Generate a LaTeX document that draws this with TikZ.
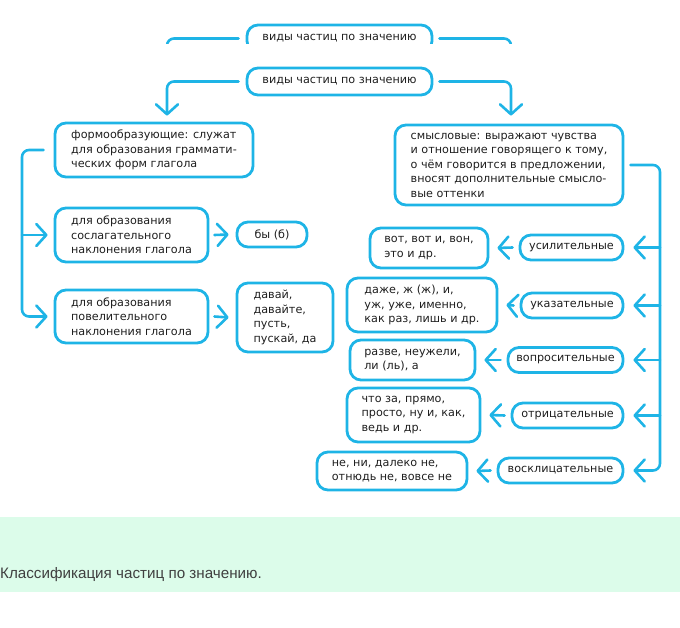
\documentclass[tikz,border=0pt]{standalone}
\usepackage{fontspec}
\setmainfont{DejaVu Sans}
\newfontfamily\capfont{Liberation Sans}
\usetikzlibrary{arrows.meta}
\definecolor{lblue}{RGB}{30,180,230}
\definecolor{txt}{RGB}{30,30,30}
\definecolor{band}{RGB}{220,252,234}
\begin{document}
\begin{tikzpicture}[x=1pt,y=-1pt,
  box/.style={draw=lblue, line width=2.8pt, rounded corners=11pt, inner sep=0pt,
    text=txt, align=left, font=\fontsize{11.2}{14.5}\selectfont},
  cat/.style={box, align=center},
  conn/.style={draw=lblue, line width=2.6pt, line cap=round, line join=round},
  arr/.style={conn, -{Straight Barb[length=10pt,width=22pt,line cap=round,line join=round]}}
  ]
\useasboundingbox (0,0) rectangle (680,628);
% bottom band and caption
\fill[band] (0,517) rectangle (680,592);
\node[anchor=base west, inner sep=0pt, text=txt!85, font=\capfont\fontsize{15.2}{18}\selectfont] (cap) at (0,578) {Классификация частиц по значению.};

% clipped copy of the header
\begin{scope}
\clip (0,0) rectangle (680,44);
\node[cat, minimum width=185pt, minimum height=27pt] (head1) at (339.5,38.5) {виды частиц по значению};
\coordinate (t1L) at (167,74);
\coordinate (t1R) at (511,74);
\draw[conn, rounded corners=7pt] ([xshift=-7pt]head1.west) -| (t1L);
\draw[conn, rounded corners=7pt] ([xshift=6pt]head1.east) -| (t1R);
\end{scope}

% header
\node[cat, minimum width=185pt, minimum height=27pt] (head2) at (339.5,81.5) {виды частиц по значению};

% left column
\node[box, minimum width=198pt, minimum height=54pt] (form) at (154,150)
  {формообразующие: служат\\для образования граммати-\\ческих форм глагола};
\node[box, minimum width=153pt, minimum height=54pt] (sosl) at (131.5,235)
  {для образования\\сослагательного\\наклонения глагола};
\node[cat, minimum width=70pt, minimum height=25pt] (by) at (272,234.5) {бы (б)};
\node[box, minimum width=153pt, minimum height=53pt] (povel) at (131.5,316.5)
  {для образования\\повелительного\\наклонения глагола};
\node[box, minimum width=96pt, minimum height=69pt] (davai) at (285,317.5)
  {давай,\\давайте,\\пусть,\\пускай, да};

% right column
\node[box, minimum width=228pt, minimum height=80pt] (smysl) at (509,165)
  {смысловые: выражают чувства\\и отношение говорящего к тому,\\о чём говорится в предложении,\\вносят дополнительные смысло-\\вые оттенки};

\node[cat, minimum width=103pt, minimum height=25pt] (usil) at (571.5,247.5) {усилительные};
\node[box, minimum width=118pt, minimum height=40pt] (usilx) at (429,248) {вот, вот и, вон,\\это и др.};
\node[cat, minimum width=102pt, minimum height=25pt] (ukaz) at (572,305.5) {указательные};
\node[box, minimum width=150pt, minimum height=54pt] (ukazx) at (422,305) {даже, ж (ж), и,\\уж, уже, именно,\\как раз, лишь и др.};
\node[cat, minimum width=115pt, minimum height=25pt] (vopr) at (565.5,360) {вопросительные};
\node[box, minimum width=125pt, minimum height=40pt] (voprx) at (412.5,360) {разве, неужели,\\ли (ль), а};
\node[cat, minimum width=111pt, minimum height=25pt] (otric) at (567.5,415.5) {отрицательные};
\node[box, minimum width=133pt, minimum height=54pt] (otricx) at (413.5,415) {что за, прямо,\\просто, ну и, как,\\ведь и др.};
\node[cat, minimum width=125pt, minimum height=25pt] (voskl) at (560.5,470.5) {восклицательные};
\node[box, minimum width=150pt, minimum height=38pt] (vosklx) at (392,471) {не, ни, далеко не,\\отнюдь не, вовсе не};

% header connectors
\draw[arr, rounded corners=7pt] ([xshift=-7pt]head2.west) -| ([xshift=13pt,yshift=6pt]form.north);
\draw[arr, rounded corners=7pt] ([xshift=6pt]head2.east) -| ([xshift=2pt,yshift=8pt]smysl.north);

% left trunk
\coordinate (trL) at (22,240);
\draw[arr, rounded corners=7pt] ([xshift=-10pt]form.west) -| (trL) |- ([xshift=-6pt]povel.west);
\draw[arr] (trL |- sosl.west) -- ([xshift=-6pt]sosl.west);
\draw[arr] ([xshift=5pt]sosl.east) -- ([xshift=-7pt]by.west);
\draw[arr] ([xshift=5pt]povel.east) -- ([xshift=-7pt]davai.west);

% right trunk
\coordinate (trR) at (660,300);
\draw[arr, rounded corners=7pt] ([xshift=6pt]smysl.east) -| (trR) |- ([xshift=9pt]voskl.east);
\draw[arr] (trR |- usil.east) -- ([xshift=9pt]usil.east);
\draw[arr] (trR |- ukaz.east) -- ([xshift=9pt]ukaz.east);
\draw[arr] (trR |- vopr.east) -- ([xshift=9pt]vopr.east);
\draw[arr] (trR |- otric.east) -- ([xshift=9pt]otric.east);

\draw[arr] ([xshift=-6pt]usil.west) -- ([xshift=8pt]usilx.east);
\draw[arr] ([xshift=-6pt]ukaz.west) -- ([xshift=8pt]ukazx.east);
\draw[arr] ([xshift=-6pt]vopr.west) -- ([xshift=8pt]voprx.east);
\draw[arr] ([xshift=-6pt]otric.west) -- ([xshift=8pt]otricx.east);
\draw[arr] ([xshift=-6pt]voskl.west) -- ([xshift=8pt]vosklx.east);
\end{tikzpicture}
\end{document}
